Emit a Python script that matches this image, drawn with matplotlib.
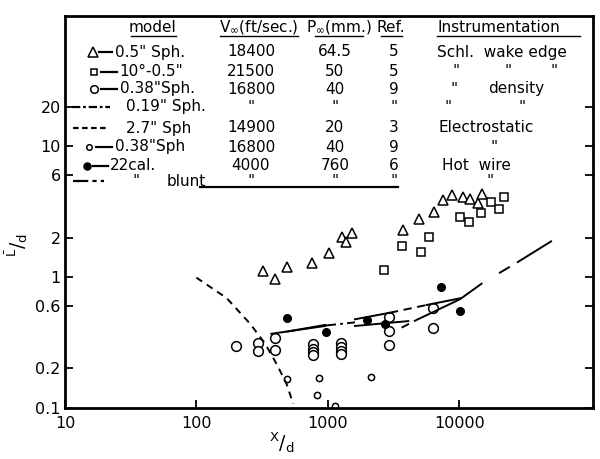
"""Wake width L/d versus x/d, log-log, with a typed data table inside the frame."""

import matplotlib

matplotlib.use("Agg")

import matplotlib.pyplot as plt
from matplotlib.lines import Line2D

# 0.5" sphere, Schlieren wake edge (triangles)
tri_x = [320, 399, 489, 754, 1021, 1290, 1537, 1376, 3754, 4970, 6429, 7568, 8863,
         10630, 12083, 13977, 14991]
tri_y = [1.12, 0.96, 1.19, 1.27, 1.52, 2.02, 2.16, 1.85, 2.28, 2.79, 3.14, 3.88, 4.22,
         4.12, 3.93, 3.66, 4.29]

# 10 deg - 0.5" cone (squares)
sq_x = [2677, 3650, 5093, 5922, 10142, 11875, 14573, 17366, 20199, 22040]
sq_y = [1.13, 1.73, 1.56, 2.02, 2.89, 2.64, 3.10, 3.75, 3.30, 4.12]

# 0.38" sphere, density (large open circles)
circ_x = [200, 293, 293, 397, 397, 767, 767, 767, 767, 1261, 1261, 1261, 1261,
          2923, 2923, 2923, 6353, 6353]
circ_y = [0.297, 0.311, 0.272, 0.343, 0.276, 0.306, 0.283, 0.268, 0.253, 0.314, 0.291,
          0.272, 0.256, 0.497, 0.386, 0.300, 0.582, 0.410]

# 0.38" sphere, electrostatic (small open circles)
small_x = [492, 861, 823, 1134, 2121]
small_y = [0.165, 0.169, 0.125, 0.103, 0.173]

# 22 cal., hot wire (filled circles)
dot_x = [492, 964, 1977, 2725, 7269, 10142]
dot_y = [0.483, 0.382, 0.467, 0.435, 0.838, 0.549]

# 2.7" sphere, electrostatic (dashed curve)
elec_x = [100, 170, 256, 333, 408, 486, 546]
elec_y = [0.99, 0.69, 0.44, 0.31, 0.216, 0.152, 0.107]

# 22 cal. hot wire (solid pieces)
hot_x = [372, 952]
hot_y = [0.368, 0.422]
hot_b_x = [488, 952]
hot_b_y = [0.382, 0.43]
wedge_top_x = [1611, 2974]
wedge_top_y = [0.475, 0.533]
wedge_bot_x = [1611, 4099]
wedge_bot_y = [0.422, 0.46]
upper_solid_x = [5656, 10142]
upper_solid_y = [0.611, 0.687]

# dashed connectors
upper_dash_x = [2974, 5656]
upper_dash_y = [0.533, 0.611]
lower_dash_x = [3650, 4690]
lower_dash_y = [0.41, 0.467]

# 0.19" sphere (dash-dot)
dd_x = [952, 1611]
dd_y = [0.425, 0.45]

# blunt (long dash - short dash)
blunt_x = [4690, 10142, 15170, 27390, 50800]
blunt_y = [0.467, 0.676, 0.905, 1.286, 1.89]

x_ticks = [10, 100, 1000, 10000]
x_labels = ["10", "100", "1000", "10000"]
y_ticks = [0.1, 0.2, 0.6, 1, 2, 6, 10, 20]
y_labels = ["0.1", "0.2", "0.6", "1", "2", "6", "10", "20"]

# table text
headers = ["model", "V$_\\infty$(ft/sec.)", "P$_\\infty$(mm.)", "Ref.", "Instrumentation"]
models = ["0.5\" Sph.", "10°-0.5\"", "0.38\"Sph.", "0.19\" Sph.", "2.7\" Sph",
          "0.38\"Sph", "22cal.", "\""]
speeds = ["18400", "21500", "16800", "\"", "14900", "16800", "4000", "\""]
pressures = ["64.5", "50", "40", "\"", "20", "40", "760", "\""]
refs = ["5", "5", "9", "\"", "3", "9", "6", "\""]
instruments = [["Schl.  wake edge"], ["\"", "\"", "\""], ["\"", "density"], ["\"", "\""],
               ["Electrostatic"], ["\""], ["Hot  wire"], ["\""]]

plt.rcParams["font.family"] = ["DejaVu Sans"]
plt.rcParams["mathtext.default"] = "regular"
plt.rcParams["lines.scale_dashes"] = False

W, H = 600, 459
fig = plt.figure(figsize=(6.0, 4.59), dpi=100)
ax = fig.add_axes([65 / W, 1 - 407.7 / H, (593.3 - 65) / W, (407.7 - 15.7) / H])
ax.set_xscale("log")
ax.set_yscale("log")
ax.set_xlim(10, 1.05e5)
ax.set_ylim(0.1, 100)

ink = "black"
ax.plot(tri_x, tri_y, ls="none", marker="^", ms=7.5, mfc="white", mec=ink, mew=1.1)
ax.plot(sq_x, sq_y, ls="none", marker="s", ms=5.5, mfc="white", mec=ink, mew=1.1)
ax.plot(circ_x, circ_y, ls="none", marker="o", ms=7, mfc="white", mec=ink, mew=1.1)
ax.plot(small_x, small_y, ls="none", marker="o", ms=4.5, mfc="white", mec=ink, mew=1.1)
ax.plot(dot_x, dot_y, ls="none", marker="o", ms=5.5, mfc=ink, mec=ink)

lw = 1.4
ax.plot(elec_x, elec_y, color=ink, lw=lw, ls=(0, (5, 4)))
for xs, ys in [(hot_x, hot_y), (hot_b_x, hot_b_y), (wedge_top_x, wedge_top_y),
               (wedge_bot_x, wedge_bot_y), (upper_solid_x, upper_solid_y)]:
    ax.plot(xs, ys, color=ink, lw=lw)
ax.plot(upper_dash_x, upper_dash_y, color=ink, lw=lw, ls=(0, (6, 4)))
ax.plot(lower_dash_x, lower_dash_y, color=ink, lw=lw, ls=(0, (6, 4)))
ax.plot(dd_x, dd_y, color=ink, lw=lw, ls=(0, (8, 3, 2, 3)))
ax.plot(blunt_x, blunt_y, color=ink, lw=lw, ls=(0, (55, 14, 9, 6)))

ax.xaxis.set_major_locator(matplotlib.ticker.FixedLocator(x_ticks))
ax.xaxis.set_major_formatter(matplotlib.ticker.FixedFormatter(x_labels))
ax.yaxis.set_major_locator(matplotlib.ticker.FixedLocator(y_ticks))
ax.yaxis.set_major_formatter(matplotlib.ticker.FixedFormatter(y_labels))
ax.xaxis.set_minor_locator(matplotlib.ticker.NullLocator())
ax.yaxis.set_minor_locator(matplotlib.ticker.NullLocator())
ax.tick_params(which="major", direction="in", length=6, width=1.3, labelsize=11.5,
               right=True, top=False)
ax.tick_params(axis="x", pad=6)
ax.tick_params(axis="y", pad=3)
for spine in ax.spines.values():
    spine.set_linewidth(2)

ax.set_xlabel(r"$^{X}/_{d}$", fontsize=13.5)
ax.xaxis.set_label_coords((282 - 65) / 528, (407.7 - 430) / 392)
ax.set_ylabel(r"$^{\bar{L}}/_{d}$", fontsize=13.5)
ax.yaxis.set_label_coords((30 - 65) / 528, (407.7 - 245) / 392)


def ftext(px, py, s, ha="left"):
    fig.text(px / W, 1 - py / H, s, ha=ha, va="center", fontsize=11)


# header row, underlined
head_pos = [(153, "center"), (259, "center"), (339, "center"), (391, "center"),
            (437, "left")]
for (px, ha), s in zip(head_pos, headers):
    ftext(px, 27, s, ha=ha)
for x0, x1 in [(131, 176), (220, 298), (315, 363), (381, 402), (437, 580)]:
    fig.add_artist(Line2D([x0 / W, x1 / W], [1 - 36 / H, 1 - 36 / H], color=ink, lw=1))

row_y = [52, 72, 89, 107, 128, 147, 166, 181]
model_x = [115, 119, 120, 126, 126, 115, 110, 132]
inst_x = [[437], [453, 505, 551], [451, 488], [444, 519], [438], [490], [442], [486]]
for i, py in enumerate(row_y):
    ftext(model_x[i], py, models[i])
    ftext(251, py, speeds[i], ha="center")
    ftext(335, py, pressures[i], ha="center")
    ftext(394, py, refs[i], ha="center")
    for px, s in zip(inst_x[i], instruments[i]):
        ftext(px, py, s)
ftext(167, 181, "blunt")

# legend samples
samples = [
    dict(x=[99, 112], m=93, marker="^", ms=7, mfc="white", ls="-"),
    dict(x=[101, 117], m=94, marker="s", ms=4.5, mfc="white", ls="-"),
    dict(x=[101, 117], m=94, marker="o", ms=5.5, mfc="white", ls="-"),
    dict(x=[72, 110], m=None, ls=(0, (6, 2, 2, 2))),
    dict(x=[73, 108], m=None, ls=(0, (4, 2.5))),
    dict(x=[96, 112], m=89, marker="o", ms=4, mfc="white", ls="-"),
    dict(x=[93, 108], m=87, marker="o", ms=5, mfc=ink, ls="-"),
    dict(x=[73, 104], m=None, ls=(0, (11, 3, 3, 3))),
]
for i, smp in enumerate(samples):
    yy = 1 - row_y[i] / H
    fig.add_artist(Line2D([smp["x"][0] / W, smp["x"][1] / W], [yy, yy], color=ink,
                          lw=1.6, ls=smp["ls"]))
    if smp["m"]:
        fig.add_artist(Line2D([smp["m"] / W], [yy], marker=smp["marker"], ms=smp["ms"],
                              mfc=smp["mfc"], mec=ink, mew=1.1, ls="none"))

fig.add_artist(Line2D([200 / W, 398 / W], [1 - 187 / H, 1 - 187 / H], color=ink, lw=1.6))

fig.savefig("out.png", dpi=100)
